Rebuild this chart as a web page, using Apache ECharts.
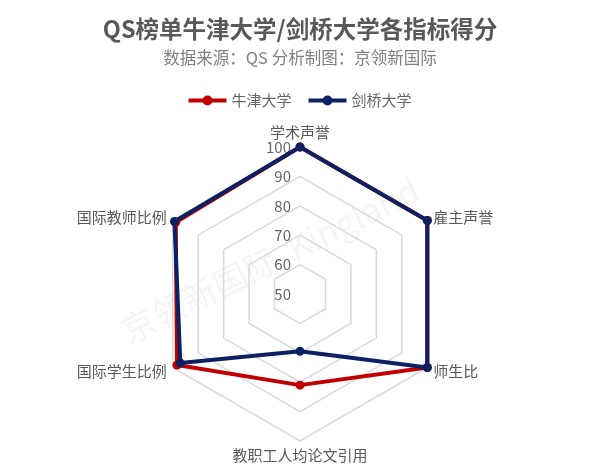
<!DOCTYPE html>
<html><head><meta charset="utf-8">
<script src="https://cdn.jsdelivr.net/npm/echarts@6/dist/echarts.min.js"></script>
<style>html,body{margin:0;padding:0;background:#fff}#c{width:600px;height:469px}</style>
</head><body><div id="c"></div>
<script>
// ECharts radar order (counterclockwise from top)
const indicators = ['学术声誉', '国际教师比例', '国际学生比例', '教职工人均论文引用', '师生比', '雇主声誉'];
const oxford = [100, 98.8, 98.3, 81, 100, 100];
const cambridge = [100, 99.3, 97, 69.5, 100, 100];
const seriesNames = ['牛津大学', '剑桥大学'];
const titleText = 'QS榜单牛津大学/剑桥大学各指标得分';
const subText = '数据来源：QS 分析制图：京领新国际';

const font = '"Noto Sans CJK SC", "Noto Sans", sans-serif';
const legendIcon = 'path://M0,3 L38,3 L38,7 L0,7 Z M19,0 A5,5 0 1,1 19,10 A5,5 0 1,1 19,0 Z';
const chart = echarts.init(document.getElementById('c'));
chart.setOption({
  backgroundColor: '#fff',
  title: {
    text: titleText, subtext: subText, left: 'center', top: 12, itemGap: 9,
    textStyle: {fontFamily: font, fontSize: 23.5, fontWeight: 'bold', color: '#595959'},
    subtextStyle: {fontFamily: font, fontSize: 16.5, color: '#808080'}
  },
  legend: {
    top: 88, left: 'center', itemWidth: 38, itemHeight: 10, itemGap: 17,
    textStyle: {fontFamily: font, fontSize: 15, color: '#666'},
    data: [{name: seriesNames[0], icon: legendIcon}, {name: seriesNames[1], icon: legendIcon}]
  },
  graphic: [{
    type: 'text', x: 270, y: 260, rotation: 0.46, silent: true,
    style: {text: '京领新国际  Kingland', font: '34px ' + font, fill: 'rgba(0,0,0,0.04)',
            align: 'center', verticalAlign: 'middle'}
  }],
  radar: {
    center: [300, 294], radius: 147, splitNumber: 5, shape: 'polygon',
    nameGap: 7,
    axisName: {fontFamily: font, fontSize: 15, color: '#595959'},
    axisLine: {show: false},
    splitLine: {lineStyle: {color: '#d9d9d9', width: 1.5}},
    splitArea: {show: false},
    axisLabel: {show: false},
    indicator: indicators.map((n, i) => {
      const o = {name: n, min: 50, max: 100};
      if (i === 0) o.axisLabel = {show: true, fontFamily: font, fontSize: 15, color: '#666', margin: 9};
      return o;
    })
  },
  series: [{
    type: 'radar',
    symbol: 'circle', symbolSize: 9,
    data: [
      {name: seriesNames[0], value: oxford,
       lineStyle: {color: '#c00000', width: 4}, itemStyle: {color: '#c00000'}},
      {name: seriesNames[1], value: cambridge,
       lineStyle: {color: '#0b2161', width: 4}, itemStyle: {color: '#0b2161'}}
    ]
  }]
});
</script></body></html>
